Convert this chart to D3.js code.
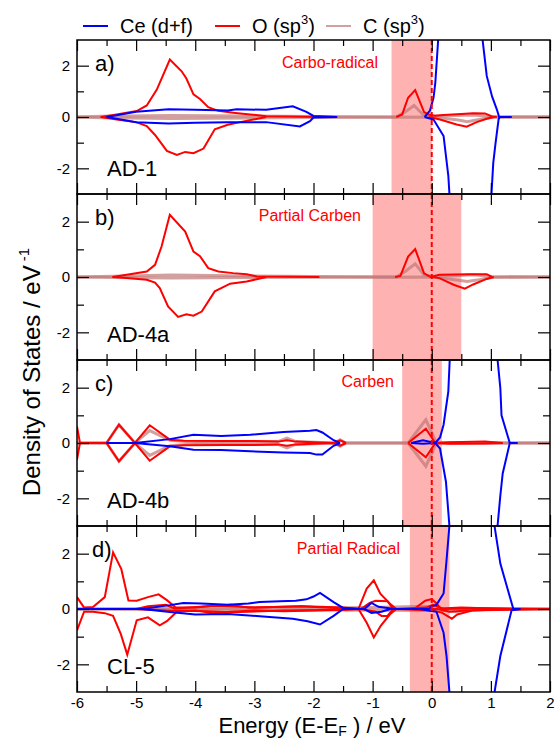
<!DOCTYPE html>
<html>
<head>
<meta charset="utf-8">
<script src="https://cdn.jsdelivr.net/npm/d3@7/dist/d3.min.js"></script>
<style>
  body { margin: 0; background: #fff; }
  svg { display: block; font-family: "Liberation Sans", Arial, sans-serif; }
</style>
</head>
<body>
<div id="chart"></div>
<script>
// ---- data ----
const panelLetters = ["a)", "b)", "c)", "d)"];
const panelNames = ["AD-1", "AD-4a", "AD-4b", "CL-5"];
const panelNotes = ["Carbo-radical", "Partial Carben", "Carben", "Partial Radical"];
const shadeRanges = [[-0.68, 0], [-1.0, 0.5], [-0.5, 0.17], [-0.37, 0.3]];
const xTickLabels = [-6, -5, -4, -3, -2, -1, 0, 1, 2];
const yTickLabels = [-2, 0, 2];

// panel a) AD-1
const ceUpA = [[-5.5,0],[-5.0,0.2],[-4.45,0.3],[-4.0,0.28],[-3.45,0.25],[-3.3,0.3],[-2.8,0.28],[-2.35,0.42],[-2.12,0.2],[-2.0,0.04],[-1.6,0],[-1.55,null],
  [-0.12,0],[-0.03,0.25],[0.03,0.75],[0.06,1.33],[0.12,3.4],[0.84,3.4],[0.93,1.6],[1.02,0.8],[1.1,0.3],[1.14,0],[1.35,0]];
const ceDnA = [[-5.5,0],[-5.0,-0.2],[-4.45,-0.25],[-4.0,-0.22],[-3.45,-0.2],[-2.8,-0.2],[-2.23,-0.37],[-2.06,-0.16],[-2.0,-0.02],[-1.6,0],[-1.55,null],
  [-0.12,0],[0.03,-0.1],[0.2,-0.74],[0.28,-2.28],[0.31,-3.4],[1.0,-3.4],[1.04,-1.8],[1.08,-1.0],[1.13,-0.1],[1.15,0],[1.35,0]];
const oUpA = [[-5.6,0],[-5.33,0.1],[-4.99,0.23],[-4.82,0.45],[-4.65,1.07],[-4.43,2.24],[-4.23,1.78],[-4.15,1.5],[-4.03,0.88],[-3.92,0.7],[-3.78,0.38],
  [-3.61,0.24],[-3.36,0.17],[-3.07,0.1],[-2.8,0.03],[-1.85,0],[-1.8,null],
  [-0.6,0],[-0.5,0.1],[-0.4,0.75],[-0.28,1.05],[-0.13,0.19],[-0.05,0.1],[0.05,0.05],[0.2,0.08],[0.5,0.12],[0.7,0.15],[0.9,0.14],[1.02,0.02],[1.1,0]];
const oDnA = [[-5.6,0],[-5.33,-0.1],[-5.0,-0.2],[-4.82,-0.35],[-4.68,-0.7],[-4.48,-1.32],[-4.31,-1.48],[-4.17,-1.36],[-4.03,-1.41],[-3.86,-1.23],
  [-3.67,-0.48],[-3.45,-0.3],[-3.24,-0.2],[-3.02,-0.1],[-2.8,0],[-2.75,null],
  [-0.05,0],[0.14,-0.1],[0.42,-0.29],[0.59,-0.38],[0.76,-0.2],[0.93,-0.07],[1.05,0]];
const cUpA = [[-6,0],[-5.6,0.03],[-4.4,0.06],[-3,0.04],[-2,0.02],[-0.6,0],[-0.45,0.2],[-0.3,0.45],[-0.15,0.1],[0,0.03],[0.3,0.05],[0.7,0.08],[1.0,0.02],[2,0]];
const cDnA = [[-6,0],[-5.6,-0.03],[-4.4,-0.06],[-3,-0.04],[-2,-0.02],[0,0],[0.2,-0.05],[0.45,-0.12],[0.6,-0.18],[0.8,-0.1],[1.0,-0.02],[2,0]];

// panel b) AD-4a
const oUpB = [[-5.4,0],[-5.16,0.08],[-4.82,0.2],[-4.68,0.44],[-4.57,1.1],[-4.43,2.25],[-4.17,1.64],[-4.03,0.92],[-3.92,0.75],[-3.78,0.32],[-3.61,0.2],
  [-3.36,0.14],[-3.13,0.1],[-2.96,0.02],[-1.9,0],[-1.85,null],
  [-0.62,0],[-0.53,0.04],[-0.4,0.74],[-0.28,1.01],[-0.13,0.13],[-0.02,0],[0.13,0.08],[0.65,0.1],[0.93,0.1],[1.02,0]];
const oDnB = [[-5.4,0],[-5.16,-0.04],[-4.82,-0.1],[-4.68,-0.2],[-4.6,-0.4],[-4.46,-1.06],[-4.29,-1.44],[-4.15,-1.35],[-4.03,-1.4],[-3.89,-1.25],
  [-3.67,-0.52],[-3.41,-0.24],[-3.13,-0.16],[-2.96,-0.08],[-2.8,0],[-2.75,null],
  [0,0],[0.13,-0.04],[0.37,-0.28],[0.56,-0.42],[0.7,-0.27],[0.93,-0.07],[1.05,0]];
const cUpB = [[-6,0],[-5.4,0.03],[-4.4,0.07],[-3,0.04],[-2,0.02],[-0.6,0],[-0.45,0.2],[-0.28,0.48],[-0.13,0.08],[0,0.02],[0.3,0.04],[0.7,0.08],[1.0,0.02],[2,0]];
const cDnB = [[-6,0],[-5.4,-0.02],[-4.4,-0.04],[-3,-0.02],[0,0],[0.2,-0.05],[0.45,-0.12],[0.6,-0.16],[0.8,-0.1],[1.0,-0.02],[2,0]];

// panel c) AD-4b
const ceUpC = [[-5.5,0],[-5.02,0],[-4.43,0.14],[-4.03,0.3],[-3.56,0.25],[-3.07,0.3],[-2.51,0.4],[-2.06,0.44],[-1.95,0.47],[-1.85,0.38],[-1.66,0.1],[-1.55,0],[-1.5,null],
  [-0.35,0],[-0.15,0.1],[0.06,0],[0.14,0.2],[0.2,0.66],[0.28,1.86],[0.31,3.3],[1.1,3.3],[1.16,1.98],[1.18,1.0],[1.32,0],[1.45,0]];
const ceDnC = [[-5.5,0],[-5.02,0],[-4.43,-0.12],[-4.03,-0.24],[-3.56,-0.25],[-3.07,-0.3],[-2.51,-0.34],[-2.06,-0.36],[-1.95,-0.42],[-1.85,-0.42],[-1.66,-0.1],[-1.55,0],[-1.5,null],
  [-0.35,0],[-0.15,-0.03],[0.06,0],[0.14,-0.2],[0.24,-1.4],[0.31,-3.3],[1.1,-3.3],[1.16,-1.9],[1.2,-1.1],[1.32,0],[1.45,0]];
const oUpC = [[-6,0.6],[-5.95,0],[-5.5,0],[-5.29,0.66],[-5.02,0],[-4.77,0.64],[-4.43,0.12],[-4.2,0.08],[-3.5,0.07],[-3.0,0.07],[-2.6,0.05],[-2.45,0.1],
  [-2.3,0.05],[-2.0,0.03],[-1.65,0],[-1.55,0.1],[-1.45,0],[-1.4,null],[-0.4,0],[-0.1,0.52],[0.06,0],[0.3,0.03],[0.9,0.05],[1.2,0]];
const oDnC = [[-6,-0.6],[-5.95,0],[-5.5,0],[-5.29,-0.66],[-5.02,0],[-4.77,-0.64],[-4.43,-0.12],[-4.2,-0.08],[-3.5,-0.07],[-3.0,-0.07],[-2.6,-0.05],[-2.45,-0.1],
  [-2.3,-0.05],[-2.0,-0.03],[-1.65,0],[-1.55,-0.1],[-1.45,0],[-1.4,null],[-0.4,0],[-0.1,-0.52],[0.06,0],[0.3,-0.03],[0.9,-0.02],[1.2,0]];
const cUpC = [[-6,0],[-5.5,0],[-5.29,0.66],[-5.02,0],[-4.77,0.45],[-4.43,0.1],[-4.0,0.03],[-2.6,0.05],[-2.45,0.18],[-2.3,0.05],[-1.65,0],[-1.55,0.12],[-1.45,0],
  [-0.4,0],[-0.1,0.84],[0.08,0],[2,0]];
const cDnC = [[-6,0],[-5.5,0],[-5.29,-0.66],[-5.02,0],[-4.77,-0.45],[-4.43,-0.1],[-4.0,-0.03],[-2.6,-0.05],[-2.45,-0.18],[-2.3,-0.05],[-1.65,0],[-1.55,-0.12],[-1.45,0],
  [-0.4,0],[-0.1,-0.84],[0.08,0],[2,0]];

// panel d) CL-5
const ceUpD = [[-6,0],[-4.9,0],[-4.43,0.14],[-4.2,0.22],[-3.9,0.2],[-3.45,0.15],[-3.1,0.2],[-2.91,0.25],[-2.57,0.28],[-2.3,0.3],[-2.12,0.35],[-2.0,0.45],
  [-1.89,0.58],[-1.66,0.25],[-1.5,0.04],[-1.14,0],[-1.02,0.22],[-0.9,0.08],[-0.63,0],[-0.05,0],[0.0,0.1],[0.08,0.15],[0.2,0.56],[0.25,1.76],
  [0.31,3.3],[1.04,3.3],[1.16,1.64],[1.38,0],[1.5,0]];
const ceDnD = [[-6,0],[-4.9,0],[-4.43,-0.11],[-4.0,-0.2],[-3.45,-0.18],[-2.91,-0.26],[-2.35,-0.35],[-2.1,-0.44],[-1.89,-0.56],[-1.66,-0.25],[-1.5,0],
  [-1.14,0],[-1.02,-0.14],[-0.85,-0.1],[-0.7,0],[-0.2,0],[0.08,-0.1],[0.2,-0.86],[0.25,-1.7],[0.31,-3.3],[1.04,-3.3],[1.16,-1.7],[1.35,-0.05],[1.5,0]];
const oUpD = [[-6,0.43],[-5.88,0.05],[-5.73,0.07],[-5.53,0.43],[-5.39,2.05],[-5.25,1.44],[-5.13,0.31],[-4.99,0.3],[-4.8,0.43],[-4.62,0.53],[-4.48,0.32],
  [-4.33,0.05],[-4.0,0.05],[-3.7,0.12],[-3.4,0.1],[-3.0,0.05],[-2.5,0.08],[-2.2,0.1],[-1.9,0.08],[-1.5,0.05],[-1.24,0],[-1.1,0.74],[-0.98,1.04],
  [-0.87,0.55],[-0.71,0.2],[-0.6,0],[-0.3,0],[-0.11,0.3],[0,0.36],[0.08,0.2],[0.15,0.02],[0.5,0.05],[0.9,0.03],[1.3,0],[2,0]];
const oDnD = [[-6,-0.77],[-5.88,-0.1],[-5.73,-0.1],[-5.53,-0.15],[-5.39,-0.25],[-5.26,-0.9],[-5.15,-1.65],[-4.99,-0.41],[-4.8,-0.3],[-4.6,-0.59],
  [-4.48,-0.44],[-4.31,-0.1],[-4.0,-0.05],[-3.7,-0.15],[-3.4,-0.1],[-3.0,-0.05],[-2.5,-0.08],[-2.0,-0.05],[-1.5,-0.03],[-1.24,0],[-1.1,-0.5],
  [-0.98,-1.03],[-0.86,-0.6],[-0.71,-0.2],[-0.6,0],[0,-0.05],[0.17,-0.13],[0.34,-0.35],[0.43,-0.2],[0.7,-0.05],[1.3,0],[2,0]];
const o2UpD = [[-6,0],[-5.0,0],[-4.8,0.1],[-4.5,0.15],[-4.35,0.02],[-3.8,0.1],[-3.4,0.15],[-3.1,0.05],[-2.2,0.1],[-1.5,0.02],[-1.2,0],[-1.05,0.22],
  [-0.95,0.3],[-0.75,0.28],[-0.65,0],[-0.1,0.05],[0.02,0.15],[0.2,0],[0.8,0.03],[2,0]];
const o2DnD = [[-6,0],[-5.0,0],[-4.5,-0.05],[-3.8,-0.08],[-3.4,-0.12],[-2.5,-0.05],[-1.5,-0.03],[-1.2,0],[-0.95,-0.1],[-0.85,-0.25],[-0.75,-0.25],
  [-0.65,0],[0.1,0],[0.3,-0.1],[0.6,-0.05],[2,0]];
const cUpD = [[-6,0],[-1,0.05],[-0.1,0.1],[0.2,0],[2,0]];
const cDnD = [[-6,0],[0.2,-0.05],[0.4,-0.1],[0.7,-0.02],[2,0]];

const ceSeries = [[ceUpA, ceDnA], [], [ceUpC, ceDnC], [ceUpD, ceDnD]];
const oSeries = [[oUpA, oDnA], [oUpB, oDnB], [oUpC, oDnC], [oUpD, oDnD, o2UpD, o2DnD]];
const cSeries = [[cUpA, cDnA], [cUpB, cDnB], [cUpC, cDnC], [cUpD, cDnD]];

// ---- layout ----
const width = 555, height = 740;
const plotLeft = 77, plotRight = 550;
const panelTops = [40, 194, 360, 526];
const panelBottoms = [194, 360, 526, 692];
const notePos = [[378, 68], [361, 221], [394, 387], [400, 554]];
const letterX = [95, 95, 95, 92];

const colors = { ce: "#0000ff", o: "#ff0000", c: "#c07878" };

const svg = d3.select("#chart").append("svg")
  .attr("width", width)
  .attr("height", height);

const x = d3.scaleLinear().domain([-6, 2]).range([plotLeft, plotRight]);
const plain = d => String(d);

panelTops.forEach((top, i) => {
  const bottom = panelBottoms[i];
  const y = d3.scaleLinear().domain([-3, 3]).range([bottom, top]);
  const g = svg.append("g").attr("class", "panel");

  g.append("clipPath").attr("id", "clip" + i)
    .append("rect")
    .attr("x", plotLeft).attr("y", top)
    .attr("width", plotRight - plotLeft).attr("height", bottom - top);

  const body = g.append("g").attr("clip-path", `url(#clip${i})`);

  // highlighted window
  body.append("rect")
    .attr("x", x(shadeRanges[i][0]))
    .attr("y", top)
    .attr("width", x(shadeRanges[i][1]) - x(shadeRanges[i][0]))
    .attr("height", bottom - top)
    .attr("fill", "#ff0000")
    .attr("fill-opacity", 0.3);

  const line = d3.line()
    .defined(d => d[1] !== null)
    .x(d => x(d[0]))
    .y(d => y(d[1]));

  body.selectAll("path.c").data(cSeries[i]).enter().append("path")
    .attr("class", "c")
    .attr("d", line)
    .attr("fill", "none")
    .attr("stroke", colors.c)
    .attr("stroke-opacity", 0.7)
    .attr("stroke-width", 3);

  body.selectAll("path.o").data(oSeries[i]).enter().append("path")
    .attr("class", "o")
    .attr("d", line)
    .attr("fill", "none")
    .attr("stroke", colors.o)
    .attr("stroke-width", 2);

  body.selectAll("path.ce").data(ceSeries[i]).enter().append("path")
    .attr("class", "ce")
    .attr("d", line)
    .attr("fill", "none")
    .attr("stroke", colors.ce)
    .attr("stroke-width", 2);

  // Fermi level
  body.append("line")
    .attr("x1", x(0)).attr("x2", x(0))
    .attr("y1", top).attr("y2", bottom)
    .attr("stroke", "#ff0000")
    .attr("stroke-width", 2)
    .attr("stroke-dasharray", "5,3");

  // axes: ticks point inwards
  const axes = g.append("g").attr("class", "axes");
  axes.append("g")
    .attr("transform", `translate(${plotLeft},0)`)
    .call(d3.axisLeft(y).tickValues(yTickLabels).tickSizeInner(-12).tickSizeOuter(0).tickPadding(7).tickFormat(plain));
  axes.append("g")
    .attr("transform", `translate(${plotLeft},0)`)
    .call(d3.axisLeft(y).tickValues([-1, 1]).tickSizeInner(-7).tickSizeOuter(0).tickFormat(""));
  axes.append("g")
    .attr("transform", `translate(${plotRight},0)`)
    .call(d3.axisRight(y).tickValues(yTickLabels).tickSizeInner(-12).tickSizeOuter(0).tickFormat(""));
  axes.append("g")
    .attr("transform", `translate(${plotRight},0)`)
    .call(d3.axisRight(y).tickValues([-1, 1]).tickSizeInner(-7).tickSizeOuter(0).tickFormat(""));

  const minorX = d3.range(-5.5, 2, 1);
  axes.append("g")
    .attr("transform", `translate(0,${top})`)
    .call(d3.axisTop(x).tickValues(xTickLabels).tickSizeInner(-11).tickSizeOuter(0).tickFormat(""));
  axes.append("g")
    .attr("transform", `translate(0,${top})`)
    .call(d3.axisTop(x).tickValues(minorX).tickSizeInner(-6).tickSizeOuter(0).tickFormat(""));
  axes.append("g")
    .attr("transform", `translate(0,${bottom})`)
    .call(d3.axisBottom(x).tickValues(xTickLabels).tickSizeInner(-11).tickSizeOuter(0).tickPadding(5)
      .tickFormat(i === 3 ? plain : ""));
  axes.append("g")
    .attr("transform", `translate(0,${bottom})`)
    .call(d3.axisBottom(x).tickValues(minorX).tickSizeInner(-6).tickSizeOuter(0).tickFormat(""));

  axes.selectAll(".domain").remove();
  axes.selectAll(".tick line").attr("stroke", "#000").attr("stroke-width", 1.2);
  axes.selectAll(".tick text")
    .attr("font-family", "Liberation Sans, Arial, sans-serif")
    .attr("font-size", 15)
    .attr("fill", "#000");

  // frame
  g.append("rect")
    .attr("x", plotLeft).attr("y", top)
    .attr("width", plotRight - plotLeft).attr("height", bottom - top)
    .attr("fill", "none")
    .attr("stroke", "#000")
    .attr("stroke-width", 1.5);

  g.append("text")
    .attr("x", letterX[i]).attr("y", top + 31)
    .attr("font-size", 22)
    .text(panelLetters[i]);
  g.append("text")
    .attr("x", 107).attr("y", bottom - 18)
    .attr("font-size", 22)
    .text(panelNames[i]);
  g.append("text")
    .attr("x", notePos[i][0]).attr("y", notePos[i][1])
    .attr("text-anchor", "end")
    .attr("font-size", 16)
    .attr("fill", "#ff0000")
    .text(panelNotes[i]);
});

// legend
const legendItems = [
  { label: "Ce (d+f)", color: colors.ce, x: 83, sup: false, opacity: 1 },
  { label: "O (sp", color: colors.o, x: 215, sup: true, opacity: 1 },
  { label: "C (sp", color: colors.c, x: 326, sup: true, opacity: 0.7 }
];
const legend = svg.append("g").attr("class", "legend");
legendItems.forEach(d => {
  legend.append("line")
    .attr("x1", d.x).attr("x2", d.x + 25)
    .attr("y1", 26).attr("y2", 26)
    .attr("stroke", d.color)
    .attr("stroke-opacity", d.opacity)
    .attr("stroke-width", 2);
  const t = legend.append("text")
    .attr("x", d.x + 37).attr("y", 33)
    .attr("font-size", 20)
    .text(d.label);
  if (d.sup) {
    t.append("tspan").attr("font-size", 13).attr("dy", -9).text("3");
    t.append("tspan").attr("dy", 9).text(")");
  }
});

// axis titles
const yTitle = svg.append("text")
  .attr("transform", `translate(40,372) rotate(-90)`)
  .attr("text-anchor", "middle")
  .attr("font-size", 24)
  .text("Density of States / eV");
yTitle.append("tspan").attr("font-size", 15).attr("dy", -11).text(" -1");

const xTitle = svg.append("text")
  .attr("x", 312).attr("y", 733)
  .attr("text-anchor", "middle")
  .attr("font-size", 22)
  .text("Energy (E-E");
xTitle.append("tspan").attr("font-size", 14).attr("dy", 3).text("F");
xTitle.append("tspan").attr("dy", -3).text(" ) / eV");
</script>
</body>
</html>
